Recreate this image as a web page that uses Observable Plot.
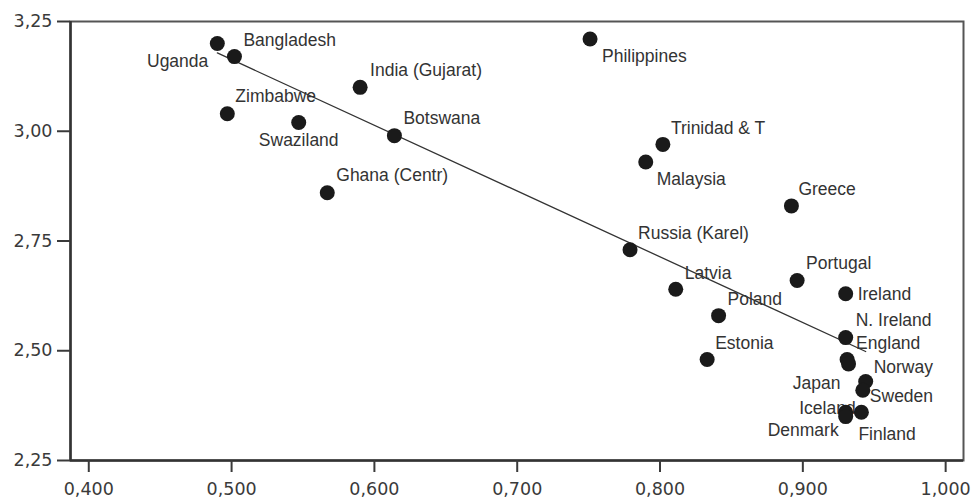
<!DOCTYPE html>
<html>
<head>
<meta charset="utf-8">
<script src="https://cdn.jsdelivr.net/npm/d3@7"></script>
<script src="https://cdn.jsdelivr.net/npm/@observablehq/plot@0.6"></script>
<style>
  html, body { margin: 0; padding: 0; background: #fff; }
</style>
</head>
<body>
<div id="chart"></div>
<script>
// ---- data ----
const countries = ["Uganda", "Bangladesh", "Zimbabwe", "Swaziland", "India (Gujarat)", "Botswana",
  "Ghana (Centr)", "Philippines", "Trinidad & T", "Malaysia", "Greece", "Russia (Karel)",
  "Portugal", "Latvia", "Ireland", "Poland", "N. Ireland", "Estonia", "England", "Japan",
  "Norway", "Sweden", "Iceland", "Denmark", "Finland"];
const xValues = [0.490, 0.502, 0.497, 0.547, 0.590, 0.614,
  0.567, 0.751, 0.802, 0.790, 0.892, 0.779,
  0.896, 0.811, 0.930, 0.841, 0.930, 0.833, 0.931, 0.932,
  0.944, 0.942, 0.930, 0.930, 0.941];
const yValues = [3.20, 3.17, 3.04, 3.02, 3.10, 2.99,
  2.86, 3.21, 2.97, 2.93, 2.83, 2.73,
  2.66, 2.64, 2.63, 2.58, 2.53, 2.48, 2.48, 2.47,
  2.43, 2.41, 2.36, 2.35, 2.36];
const xTicks = [0.4, 0.5, 0.6, 0.7, 0.8, 0.9, 1.0];
const yTicks = [2.25, 2.50, 2.75, 3.00, 3.25];

const data = countries.map((c, i) => ({country: c, x: xValues[i], y: yValues[i]}));

// ---- label placement (offsets in px from the dot, anchor) ----
const placement = {
  "Uganda": [-9, 18, "end"], "Bangladesh": [9, -16, "start"], "Zimbabwe": [8, -17, "start"],
  "Swaziland": [0, 18, "middle"], "India (Gujarat)": [10, -17, "start"], "Botswana": [9, -17, "start"],
  "Ghana (Centr)": [9, -17, "start"], "Philippines": [12, 17, "start"], "Trinidad & T": [8, -16, "start"],
  "Malaysia": [11, 17, "start"], "Greece": [7, -16, "start"], "Russia (Karel)": [8, -16, "start"],
  "Portugal": [9, -17, "start"], "Latvia": [9, -16, "start"], "Ireland": [12, 1, "start"],
  "Poland": [9, -16, "start"], "N. Ireland": [10, -17, "start"], "Estonia": [8, -16, "start"],
  "England": [9, -16, "start"], "Japan": [-8, 19, "end"], "Norway": [8, -14, "start"],
  "Sweden": [7, 6, "start"], "Iceland": [10, -4, "end"], "Denmark": [-7, 14, "end"],
  "Finland": [-3, 22, "start"]
};

const comma = (f) => (d) => d3.format(f)(d).replace(".", ",");

const labelMarks = countries.map(c => {
  const [dx, dy, anchor] = placement[c];
  return Plot.text(data.filter(d => d.country === c), {
    x: "x", y: "y", text: "country", dx, dy, textAnchor: anchor,
    fontFamily: "Liberation Sans, Arial, sans-serif", fontSize: 17.5, fill: "#333", lineAnchor: "middle"
  });
});

const chart = Plot.plot({
  width: 973,
  height: 500,
  marginLeft: 70,
  marginRight: 10,
  marginTop: 21,
  marginBottom: 40,
  style: {fontFamily: "DejaVu Sans, Verdana, sans-serif", fontSize: "17.5px", background: "#fff", color: "#3a3a3a"},
  x: {domain: [0.3872, 1.0125]},
  y: {domain: [2.25, 3.25]},
  marks: [
    Plot.frame({stroke: "#555", strokeWidth: 2}),
    Plot.ruleX([0.3872], {stroke: "#333", strokeWidth: 2.5}),
    Plot.ruleY([2.25], {stroke: "#333", strokeWidth: 2.5}),
    Plot.axisX({ticks: xTicks, tickFormat: comma(".3f"), tickSize: 12, tickPadding: 10, strokeWidth: 2, color: "#3a3a3a", label: null}),
    Plot.axisY({ticks: yTicks, tickFormat: comma(".2f"), tickSize: 13, tickPadding: 5, strokeWidth: 2, color: "#3a3a3a", label: null}),
    Plot.linearRegressionY(data, {x: "x", y: "y", ci: 0, stroke: "#333", strokeWidth: 1.3}),
    ...labelMarks,
    Plot.dot(data, {x: "x", y: "y", r: 7.5, fill: "#1a1a1a", stroke: "none"})
  ]
});
document.getElementById("chart").append(chart);
</script>
</body>
</html>
